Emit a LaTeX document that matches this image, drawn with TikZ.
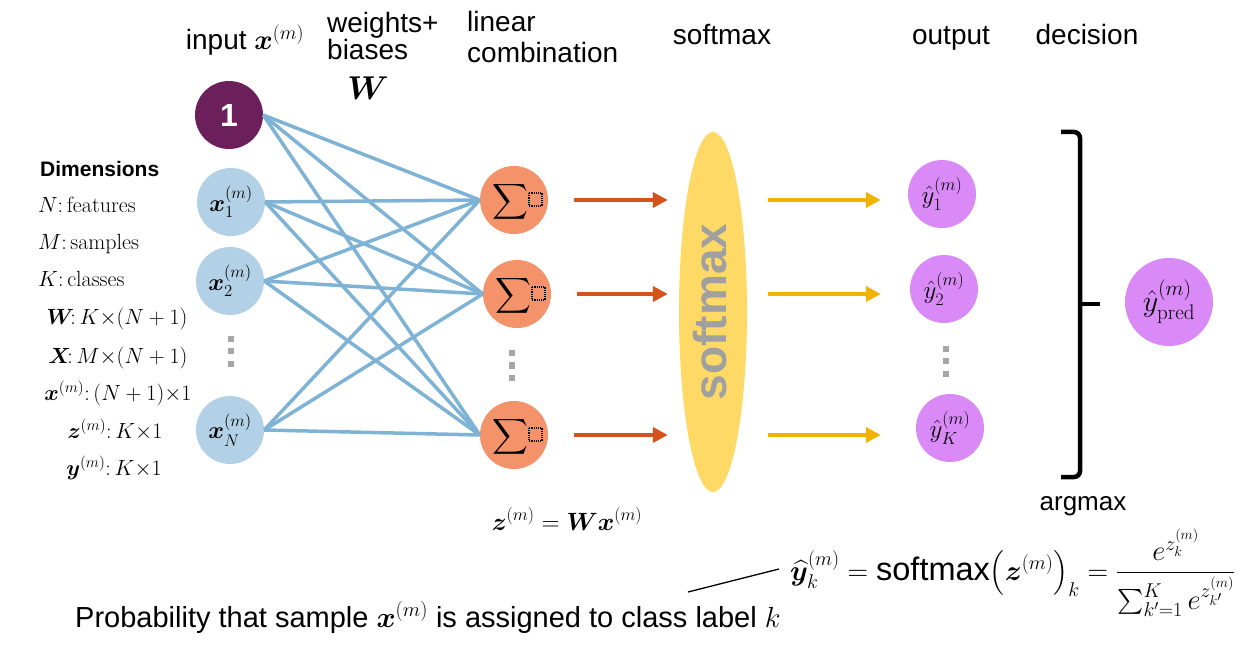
\RequirePackage{fix-cm}
\documentclass[tikz,border=0pt]{standalone}
\usepackage{amsmath}
\usepackage{bm}
\usepackage{fontspec}
\setsansfont{Liberation Sans}
\usetikzlibrary{shapes.geometric,arrows.meta,calc}
\definecolor{inpurple}{HTML}{6B1F5B}
\definecolor{inblue}{HTML}{B3D1E6}
\definecolor{edgeblue}{HTML}{7FB3D5}
\definecolor{sumorange}{HTML}{F4926A}
\definecolor{arrred}{HTML}{D4531A}
\definecolor{smyellow}{HTML}{FFD966}
\definecolor{arryellow}{HTML}{F0B400}
\definecolor{outviolet}{HTML}{D98AF6}
\definecolor{dotgray}{HTML}{A6A6A6}
\definecolor{smgray}{HTML}{A0A0A0}
\begin{document}
\begin{tikzpicture}[x=1pt,y=-1pt,
  neuron/.style={circle,minimum size=68pt,inner sep=0pt},
  innode/.style={neuron,fill=inblue,font=\fontsize{24}{28}\selectfont},
  sumnode/.style={neuron,fill=sumorange},
  sumsym/.style={inner sep=0pt,font=\fontsize{23}{27}\selectfont},
  outnode/.style={neuron,fill=outviolet,font=\fontsize{25}{29}\selectfont},
  conn/.style={draw=edgeblue,line width=3.5pt},
  redarrow/.style={draw=arrred,line width=4pt,-{Triangle[length=15pt,width=15pt]}},
  yelarrow/.style={draw=arryellow,line width=4pt,-{Triangle[length=15pt,width=15pt]}},
  toplbl/.style={font=\sffamily\fontsize{28}{32}\selectfont,inner sep=0pt},
  dimtxt/.style={font=\fontsize{22}{26}\selectfont,inner sep=0pt},
  vdotsq/.pic={\foreach \k in {-1,0,1} \fill[dotgray] (-3,\k*12.5-3) rectangle (3,\k*12.5+3);}
]
\useasboundingbox (0,0) rectangle (1256,652);

% input layer
\node[neuron,fill=inpurple,text=white,font=\sffamily\bfseries\fontsize{32}{36}\selectfont] (b) at (229,115) {1};
\node[innode] (x1) at (231,202) {$\bm{x}_1^{(m)}$};
\node[innode] (x2) at (230,281) {$\bm{x}_2^{(m)}$};
\node[innode] (xN) at (230,430) {$\bm{x}_N^{(m)}$};
\pic at (231,351.5) {vdotsq};

% linear combination layer
\node[sumnode] (s1) at (514,200) {};
\node[sumnode] (s2) at (517,294) {};
\node[sumnode] (s3) at (514,435) {};
\foreach \s in {s1,s2,s3} {
  \node[sumsym] (\s-sym) at ($(\s)+(-4,2)$) {$\displaystyle\sum$};
  \draw[densely dotted,line width=1.2pt] ($(\s)+(15,-7)$) rectangle ($(\s)+(28,6)$);
}
\pic at (512,365.5) {vdotsq};

% weights
\foreach \i in {b,x1,x2,xN}
  \foreach \j in {s1,s2,s3}
    \draw[conn] (\i.east) -- (\j.west);

% softmax
\node[ellipse,fill=smyellow,minimum width=68pt,minimum height=360pt,inner sep=0pt] (sm) at (713,312) {};
\node[rotate=90,text=smgray,font=\sffamily\bfseries\fontsize{46}{50}\selectfont,inner sep=0pt] (smtxt) at (710,312) {softmax};

\foreach \s in {s1,s2,s3}
  \draw[redarrow,shorten <=26pt,shorten >=11pt] (\s.east) -- (\s.east -| sm.west);

% outputs
\node[outnode] (y1) at (942,194) {$\hat{y}_1^{(m)}$};
\node[outnode] (y2) at (944,289) {$\hat{y}_2^{(m)}$};
\node[outnode] (yK) at (950,428) {$\hat{y}_K^{(m)}$};
\pic at (946,361.5) {vdotsq};

\draw[yelarrow,shorten <=21pt,shorten >=27pt] (sm.east |- s1) -- (y1.west |- s1);
\draw[yelarrow,shorten <=21pt,shorten >=29pt] (sm.east |- s2) -- (y2.west |- s2);
\draw[yelarrow,shorten <=21pt,shorten >=35pt] (sm.east |- s3) -- (yK.west |- s3);

% decision
\draw[line width=4.5pt,rounded corners=6pt] (1061,132) -- (1080,132) -- (1080,477) -- (1061,477);
\draw[line width=4.5pt] (1080,304) -- (1100,304);
\node[neuron,fill=outviolet,minimum size=88pt,font=\fontsize{30}{34}\selectfont] (pred) at (1169,302) {$\hat{y}_{\mathrm{pred}}^{(m)}$};
\node[toplbl,anchor=base,font=\sffamily\fontsize{26}{30}\selectfont] (argmax) at (1083,510) {argmax};

% top labels
\node[toplbl,anchor=base] (linput) at (245,50) {input $\bm{x}^{(m)}$};
\node[toplbl,anchor=base west] (lweights) at (327,33) {weights+};
\node[toplbl,anchor=base west] (lbiases) at (327,60) {biases};
\node[anchor=base,inner sep=0pt,font=\fontsize{33}{37}\selectfont] (lW) at (368,100) {$\bm{W}$};
\node[toplbl,anchor=base west] (llinear) at (467,32) {linear};
\node[toplbl,anchor=base west] (lcomb) at (467,63) {combination};
\node[toplbl,anchor=base] (lsoftmax) at (722,45) {softmax};
\node[toplbl,anchor=base] (loutput) at (951,45) {output};
\node[toplbl,anchor=base] (ldecision) at (1087,45) {decision};

% dimensions
\node[anchor=base west,inner sep=0pt,font=\sffamily\bfseries\fontsize{21}{25}\selectfont] (dimhead) at (40,177) {Dimensions};
\node[dimtxt,anchor=base west] (dN) at (38,213) {$N{:}$\,features};
\node[dimtxt,anchor=base west] (dM) at (38,250) {$M{:}$\,samples};
\node[dimtxt,anchor=base west] (dK) at (38,287) {$K{:}$\,classes};
\node[dimtxt,anchor=base] (dW) at (117,325) {$\bm{W}\!{:}\,K{\times}(N+1)$};
\node[dimtxt,anchor=base] (dX) at (118,363) {$\bm{X}\!{:}\,M{\times}(N+1)$};
\node[dimtxt,anchor=base] (dx) at (118,400) {$\bm{x}^{(m)}{:}\,(N+1){\times}1$};
\node[dimtxt,anchor=base] (dz) at (115,438) {$\bm{z}^{(m)}{:}\,K{\times}1$};
\node[dimtxt,anchor=base] (dy) at (114,475) {$\bm{y}^{(m)}{:}\,K{\times}1$};

% equations
\node[anchor=base,inner sep=0pt,font=\fontsize{25}{29}\selectfont] (zeq) at (567,530) {$\bm{z}^{(m)} = \bm{W}\bm{x}^{(m)}$};
\node[anchor=base west,inner sep=0pt,font=\fontsize{28.5}{33}\selectfont] (fm) at (790,580)
  {$\widehat{\bm{y}}_k^{(m)} = \text{\fontsize{32.5}{37}\selectfont\sffamily softmax}\bigl(\bm{z}^{(m)}\bigr)_k = \dfrac{e^{z_k^{(m)}}}{\sum_{k'=1}^{K} e^{z_{k'}^{(m)}}}$};
\node[anchor=base west,inner sep=0pt,font=\sffamily\fontsize{29}{33}\selectfont] (prob) at (75,627)
  {Probability that sample $\bm{x}^{(m)}$ is assigned to class label $k$};
\coordinate (pA) at (688,592);
\coordinate (pB) at (779,569);
\draw[line width=1.3pt] (pA) -- (pB);
\end{tikzpicture}
\end{document}
